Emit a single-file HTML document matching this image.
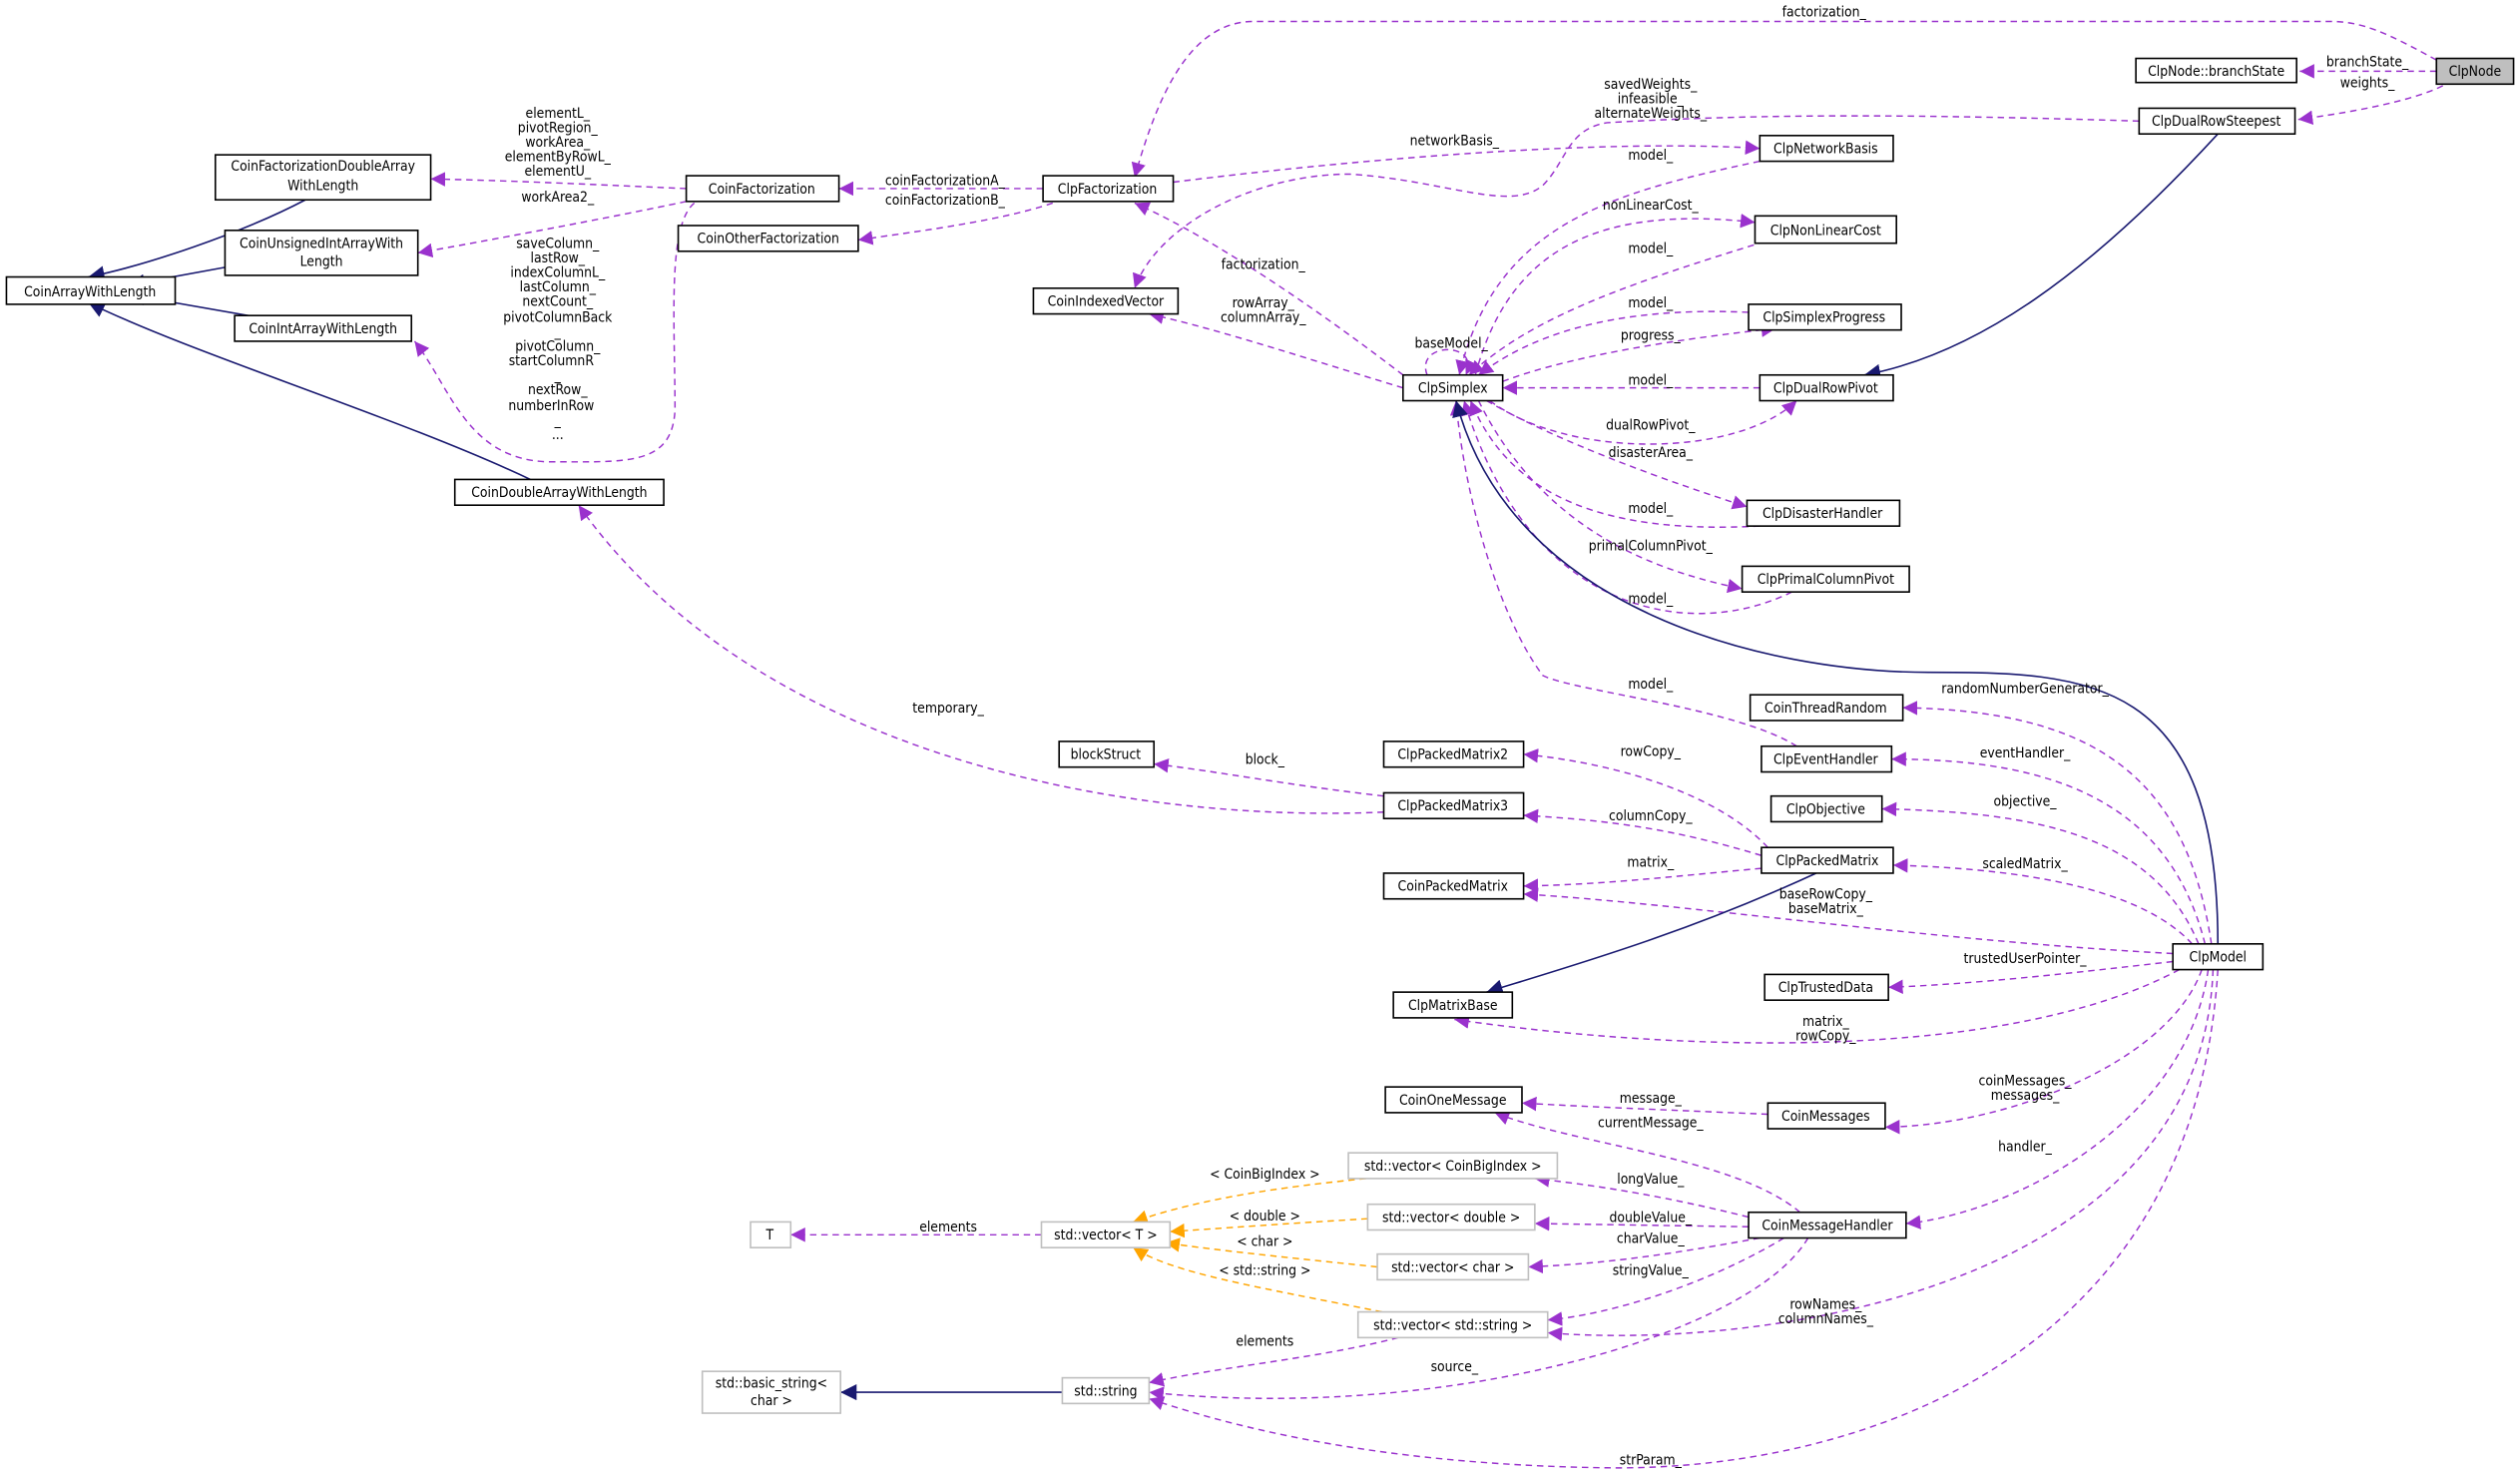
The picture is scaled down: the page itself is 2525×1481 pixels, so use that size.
<!DOCTYPE html>
<html><head><meta charset="utf-8"><style>
html,body{margin:0;padding:0;background:#fff}
svg{display:block}
text{font-family:"DejaVu Sans Condensed","DejaVu Sans","Liberation Sans",sans-serif;font-size:8.6px;fill:#000}
.n rect{fill:#fff;stroke:#000;stroke-width:1}
.g rect{fill:#fff;stroke:#bfbfbf;stroke-width:1}
.p{fill:none;stroke:#9a32cd;stroke-width:0.9;stroke-dasharray:4,3}
.o{fill:none;stroke:#ffa500;stroke-width:0.9;stroke-dasharray:4,3}
.b{fill:none;stroke:#191970;stroke-width:1}
.l{text-anchor:middle}
</style></head><body>
<svg width="2525" height="1481" viewBox="0 0 1568 919" xmlns="http://www.w3.org/2000/svg">
<defs>
<marker id="mp" viewBox="0 0 10 10" refX="10" refY="5" markerWidth="9" markerHeight="9" markerUnits="userSpaceOnUse" orient="auto"><path d="M0,0L10,5L0,10z" fill="#9a32cd"/></marker>
<marker id="mo" viewBox="0 0 10 10" refX="10" refY="5" markerWidth="9" markerHeight="9" markerUnits="userSpaceOnUse" orient="auto"><path d="M0,0L10,5L0,10z" fill="#ffa500"/></marker>
<marker id="mb" viewBox="0 0 10 10" refX="10" refY="5" markerWidth="10" markerHeight="10" markerUnits="userSpaceOnUse" orient="auto"><path d="M0,0L10,5L0,10z" fill="#191970"/></marker>
</defs>

<g marker-end="url(#mp)">
<path class="p" d="M1516,37 C1485,20 1470,13 1450,13 L780,13 C740,13 720,60 706,110"/>
<path class="p" d="M1516,44 L1431,44"/>
<path class="p" d="M1520,53 C1500,63 1460,70 1430,74"/>
<path class="p" d="M1331,75 C1200,71 1100,70 1000,76 C975,80 975,100 960,115 C940,132 900,112 840,108 C780,108 720,140 706,179"/>
<path class="p" d="M730,113 C850,98 1000,86 1095,92"/>
<path class="p" d="M649,117 L522,117"/>
<path class="p" d="M655,126 C620,138 560,145 534,149"/>
<path class="p" d="M427,117 C380,115 320,112 268,111"/>
<path class="p" d="M427,125 C380,135 300,150 260,157"/>
<path class="p" d="M432,126 C415,140 420,200 420,255 C418,290 390,287 340,287 C290,285 280,240 258,212"/>
<path class="p" d="M861,505 C700,512 470,470 360,314"/>
<path class="p" d="M861,495 C800,488 760,480 718,475"/>
<path class="p" d="M873,233 C830,200 760,150 706,126"/>
<path class="p" d="M873,241 C820,225 760,205 715,195"/>
<path class="p" d="M888,233 C880,212 922,212 912,233"/>
<path class="p" d="M1095,100 C1000,120 930,140 908,233"/>
<path class="p" d="M918,233 C940,150 1000,128 1092,138"/>
<path class="p" d="M1098,150 C1000,180 950,200 914,233"/>
<path class="p" d="M1088,194 C1000,190 950,210 920,233"/>
<path class="p" d="M935,237 C980,220 1050,210 1105,204"/>
<path class="p" d="M1095,241 L935,241"/>
<path class="p" d="M927,249 C975,285 1080,285 1118,249"/>
<path class="p" d="M925,249 C970,275 1040,300 1087,315"/>
<path class="p" d="M1095,327 C1000,332 940,310 915,249"/>
<path class="p" d="M920,249 C960,330 1030,355 1084,366"/>
<path class="p" d="M1115,368 C1050,400 950,380 911,249"/>
<path class="p" d="M1118,464 C1080,440 980,430 960,420 C930,380 910,300 906,249"/>
<path class="p" d="M1376,587 C1360,480 1300,442 1184,440"/>
<path class="p" d="M1372,587 C1350,500 1280,472 1177,472"/>
<path class="p" d="M1368,587 C1340,520 1270,505 1171,503"/>
<path class="p" d="M1364,587 C1330,550 1250,540 1178,538"/>
<path class="p" d="M1100,527 C1070,495 1010,475 948,469"/>
<path class="p" d="M1096,532 C1040,515 1000,510 948,507"/>
<path class="p" d="M1096,540 C1040,545 1000,550 948,551"/>
<path class="p" d="M1352,593 C1200,585 1050,562 948,556"/>
<path class="p" d="M1352,598 C1290,605 1230,612 1175,614"/>
<path class="p" d="M1356,603 C1250,660 1050,655 905,634"/>
<path class="p" d="M1370,603 C1350,660 1250,700 1173,701"/>
<path class="p" d="M1374,603 C1360,700 1250,755 1186,761"/>
<path class="p" d="M1377,603 C1370,800 1100,840 963,829"/>
<path class="p" d="M1380,603 C1365,850 1150,915 1000,913 C850,911 760,885 715,870"/>
<path class="p" d="M1100,693 C1030,690 980,688 947,686"/>
<path class="p" d="M1120,754 C1080,720 980,712 930,692"/>
<path class="p" d="M1088,757 C1040,745 1000,738 955,733"/>
<path class="p" d="M1088,763 L955,761"/>
<path class="p" d="M1095,770 C1040,780 1000,786 951,788"/>
<path class="p" d="M1110,770 C1060,800 1000,818 963,821"/>
<path class="p" d="M1125,770 C1090,830 900,885 715,866"/>
<path class="p" d="M870,832 C820,845 760,850 715,860"/>
<path class="p" d="M648,768 L492,768"/>
</g>
<g marker-end="url(#mo)">
<path class="o" d="M850,733 C780,740 740,748 705,760"/>
<path class="o" d="M851,758 C800,761 760,764 728,766"/>
<path class="o" d="M857,788 C800,782 760,778 725,773"/>
<path class="o" d="M860,816 C780,800 730,792 705,776"/>
</g>
<g marker-end="url(#mb)">
<path class="b" d="M190,124 C150,145 90,165 55,172"/>
<path class="b" d="M140,166 L80,177"/>
<path class="b" d="M160,197 L80,183"/>
<path class="b" d="M330,298 C250,260 120,220 55,188"/>
<path class="b" d="M1380,83 C1300,170 1230,220 1160,233"/>
<path class="b" d="M1380,587 C1380,420 1300,418 1200,418 C1100,418 940,380 906,249"/>
<path class="b" d="M1130,543 C1050,580 980,600 925,617"/>
<path class="b" d="M661,866 L523,866"/>
</g>

<g class="l">
<text x="1135" y="10">factorization_</text>
<text x="1473" y="41">branchState_</text>
<text x="1473" y="54">weights_</text>
<text x="1027" y="55">savedWeights_</text><text x="1027" y="64">infeasible_</text><text x="1027" y="73">alternateWeights_</text>
<text x="905" y="90">networkBasis_</text>
<text x="588" y="115">coinFactorizationA_</text>
<text x="588" y="127">coinFactorizationB_</text>
<text x="347" y="73">elementL_</text><text x="347" y="82">pivotRegion_</text><text x="347" y="91">workArea_</text><text x="347" y="100">elementByRowL_</text><text x="347" y="109">elementU_</text>
<text x="347" y="125">workArea2_</text>
<text x="347" y="154">saveColumn_</text><text x="347" y="163">lastRow_</text><text x="347" y="172">indexColumnL_</text><text x="347" y="181">lastColumn_</text><text x="347" y="190">nextCount_</text><text x="347" y="200">pivotColumnBack</text><text x="347" y="209">_</text><text x="347" y="218">pivotColumn_</text><text x="343" y="227">startColumnR</text><text x="347" y="236">_</text><text x="347" y="245">nextRow_</text><text x="343" y="255">numberInRow</text><text x="347" y="264">_</text><text x="347" y="273">...</text>
<text x="590" y="443">temporary_</text>
<text x="787" y="475">block_</text>
<text x="786" y="167">factorization_</text>
<text x="786" y="191">rowArray_</text><text x="786" y="200">columnArray_</text>
<text x="903" y="216">baseModel_</text>
<text x="1027" y="99">model_</text>
<text x="1027" y="130">nonLinearCost_</text>
<text x="1027" y="157">model_</text>
<text x="1027" y="191">model_</text>
<text x="1027" y="211">progress_</text>
<text x="1027" y="239">model_</text>
<text x="1027" y="267">dualRowPivot_</text>
<text x="1027" y="284">disasterArea_</text>
<text x="1027" y="319">model_</text>
<text x="1027" y="342">primalColumnPivot_</text>
<text x="1027" y="375">model_</text>
<text x="1027" y="428">model_</text>
<text x="1260" y="431">randomNumberGenerator_</text>
<text x="1260" y="471">eventHandler_</text>
<text x="1260" y="501">objective_</text>
<text x="1260" y="540">scaledMatrix_</text>
<text x="1027" y="470">rowCopy_</text>
<text x="1027" y="510">columnCopy_</text>
<text x="1027" y="539">matrix_</text>
<text x="1136" y="559">baseRowCopy_</text><text x="1136" y="568">baseMatrix_</text>
<text x="1260" y="599">trustedUserPointer_</text>
<text x="1136" y="638">matrix_</text><text x="1136" y="647">rowCopy_</text>
<text x="1260" y="675">coinMessages_</text><text x="1260" y="684">messages_</text>
<text x="1260" y="716">handler_</text>
<text x="1136" y="814">rowNames_</text><text x="1136" y="823">columnNames_</text>
<text x="1027" y="911">strParam_</text>
<text x="1027" y="686">message_</text>
<text x="1027" y="701">currentMessage_</text>
<text x="1027" y="736">longValue_</text>
<text x="1027" y="760">doubleValue_</text>
<text x="1027" y="773">charValue_</text>
<text x="1027" y="793">stringValue_</text>
<text x="905" y="853">source_</text>
<text x="787" y="837">elements</text>
<text x="787" y="733">&lt; CoinBigIndex &gt;</text>
<text x="787" y="759">&lt; double &gt;</text>
<text x="787" y="775">&lt; char &gt;</text>
<text x="787" y="793">&lt; std::string &gt;</text>
<text x="590" y="766">elements</text>
</g>

<g class="n l">
<rect x="1516" y="36" width="48" height="16" style="fill:#bfbfbf"/><text x="1540" y="47">ClpNode</text>
<rect x="1329" y="36" width="100" height="15"/><text x="1379" y="47">ClpNode::branchState</text>
<rect x="1331" y="67" width="97" height="16"/><text x="1379" y="78">ClpDualRowSteepest</text>
<rect x="649" y="109" width="81" height="16"/><text x="689" y="120">ClpFactorization</text>
<rect x="1095" y="84" width="83" height="16"/><text x="1136" y="95">ClpNetworkBasis</text>
<rect x="427" y="109" width="95" height="16"/><text x="474" y="120">CoinFactorization</text>
<rect x="422" y="140" width="112" height="16"/><text x="478" y="151">CoinOtherFactorization</text>
<rect x="134" y="96" width="134" height="28"/><text x="201" y="106">CoinFactorizationDoubleArray</text><text x="201" y="118">WithLength</text>
<rect x="140" y="143" width="120" height="28"/><text x="200" y="154">CoinUnsignedIntArrayWith</text><text x="200" y="165">Length</text>
<rect x="4" y="172" width="105" height="17"/><text x="56" y="184">CoinArrayWithLength</text>
<rect x="146" y="196" width="110" height="16"/><text x="201" y="207">CoinIntArrayWithLength</text>
<rect x="283" y="298" width="130" height="16"/><text x="348" y="309">CoinDoubleArrayWithLength</text>
<rect x="643" y="179" width="90" height="16"/><text x="688" y="190">CoinIndexedVector</text>
<rect x="1092" y="134" width="88" height="17"/><text x="1136" y="146">ClpNonLinearCost</text>
<rect x="873" y="233" width="62" height="16"/><text x="904" y="244">ClpSimplex</text>
<rect x="1088" y="189" width="95" height="16"/><text x="1135" y="200">ClpSimplexProgress</text>
<rect x="1095" y="233" width="83" height="16"/><text x="1136" y="244">ClpDualRowPivot</text>
<rect x="1087" y="311" width="95" height="16"/><text x="1134" y="322">ClpDisasterHandler</text>
<rect x="1084" y="352" width="104" height="16"/><text x="1136" y="363">ClpPrimalColumnPivot</text>
<rect x="1089" y="432" width="95" height="16"/><text x="1136" y="443">CoinThreadRandom</text>
<rect x="1096" y="464" width="81" height="16"/><text x="1136" y="475">ClpEventHandler</text>
<rect x="1102" y="495" width="69" height="16"/><text x="1136" y="506">ClpObjective</text>
<rect x="1096" y="527" width="82" height="16"/><text x="1137" y="538">ClpPackedMatrix</text>
<rect x="1098" y="606" width="77" height="16"/><text x="1136" y="617">ClpTrustedData</text>
<rect x="1352" y="587" width="56" height="16"/><text x="1380" y="598">ClpModel</text>
<rect x="659" y="461" width="59" height="16"/><text x="688" y="472">blockStruct</text>
<rect x="861" y="461" width="87" height="16"/><text x="904" y="472">ClpPackedMatrix2</text>
<rect x="861" y="493" width="87" height="16"/><text x="904" y="504">ClpPackedMatrix3</text>
<rect x="861" y="543" width="87" height="16"/><text x="904" y="554">CoinPackedMatrix</text>
<rect x="867" y="617" width="74" height="16"/><text x="904" y="628">ClpMatrixBase</text>
<rect x="862" y="676" width="85" height="16"/><text x="904" y="687">CoinOneMessage</text>
<rect x="1100" y="686" width="73" height="16"/><text x="1136" y="697">CoinMessages</text>
<rect x="1088" y="754" width="98" height="16"/><text x="1137" y="765">CoinMessageHandler</text>
</g>
<g class="g l">
<rect x="839" y="717" width="130" height="16"/><text x="904" y="728">std::vector&lt; CoinBigIndex &gt;</text>
<rect x="851" y="749" width="104" height="16"/><text x="903" y="760">std::vector&lt; double &gt;</text>
<rect x="857" y="780" width="94" height="16"/><text x="904" y="791">std::vector&lt; char &gt;</text>
<rect x="845" y="816" width="118" height="16"/><text x="904" y="827">std::vector&lt; std::string &gt;</text>
<rect x="648" y="760" width="80" height="16"/><text x="688" y="771">std::vector&lt; T &gt;</text>
<rect x="467" y="760" width="25" height="16"/><text x="479" y="771">T</text>
<rect x="437" y="853" width="86" height="26"/><text x="480" y="863">std::basic_string&lt;</text><text x="480" y="874">char &gt;</text>
<rect x="661" y="857" width="54" height="16"/><text x="688" y="868">std::string</text>
</g>
</svg>
</body></html>
